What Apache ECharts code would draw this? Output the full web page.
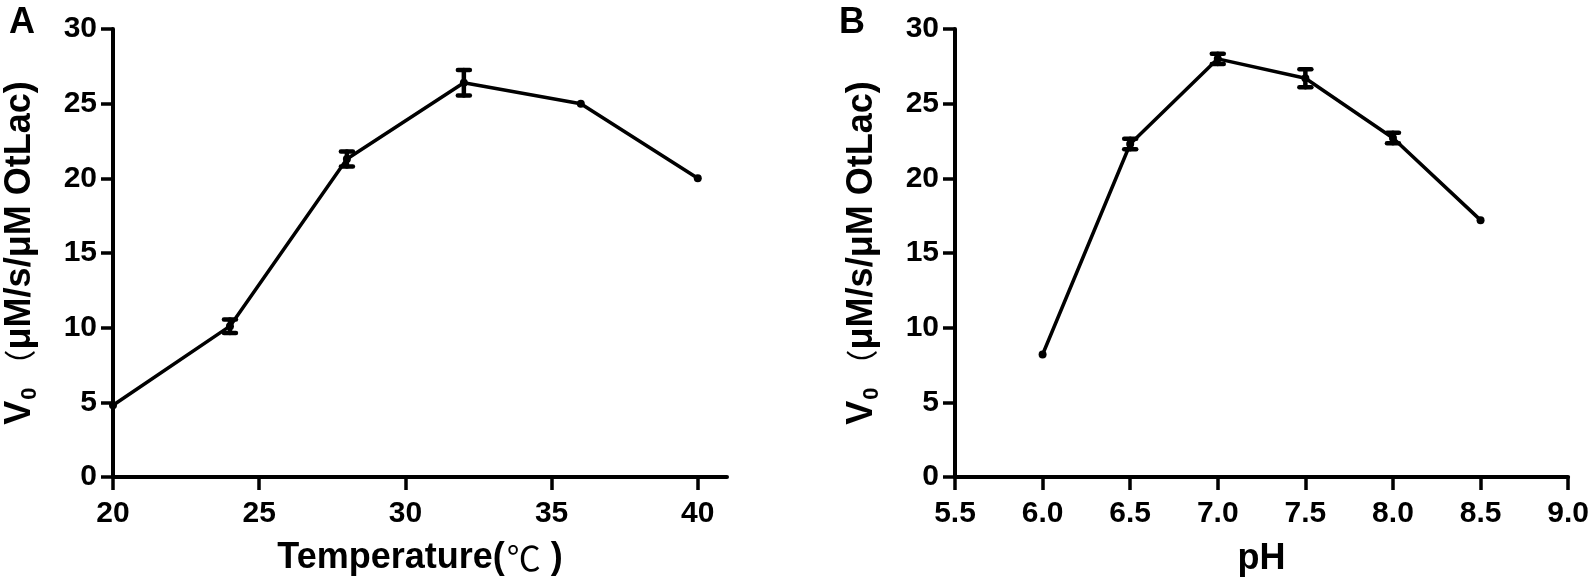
<!DOCTYPE html>
<html>
<head>
<meta charset="utf-8">
<script src="https://cdn.jsdelivr.net/npm/echarts@6/dist/echarts.min.js"></script>
<style>
html,body{margin:0;padding:0;background:#fff;}
#chart{width:1592px;height:586px;}
</style>
</head>
<body>
<div id="chart"></div>
<script>
// Panel A: temperature
var tempX = [20, 24, 28, 32, 36, 40];
var tempV = [4.8, 10.1, 21.3, 26.4, 25.0, 20.0];
var tempErr = [0, 0.45, 0.5, 0.85, 0, 0];
var tempTicks = [20, 25, 30, 35, 40];

// Panel B: pH
var phX = [6.0, 6.5, 7.0, 7.5, 8.0, 8.5];
var phV = [8.2, 22.3, 28.0, 26.7, 22.7, 17.2];
var phErr = [0, 0.35, 0.35, 0.6, 0.35, 0];

var yTicks = [0, 5, 10, 15, 20, 25, 30];

var FONT = '"Liberation Sans", Arial, sans-serif';
var CJK = '"Noto Sans CJK SC", sans-serif';

function pairs(xs, ys) { return xs.map(function (x, i) { return [x, ys[i]]; }); }
function errData(xs, ys, es) {
  var out = [];
  xs.forEach(function (x, i) { if (es[i] > 0) out.push([x, ys[i] - es[i], ys[i] + es[i]]); });
  return out;
}
function renderErr(params, api) {
  var x = api.value(0);
  var lo = api.coord([x, api.value(1)]);
  var hi = api.coord([x, api.value(2)]);
  var hw = 6;
  var st = { stroke: '#000', lineWidth: 4.5, lineCap: 'round' };
  return {
    type: 'group',
    children: [
      { type: 'line', shape: { x1: lo[0], y1: lo[1], x2: hi[0], y2: hi[1] }, style: st },
      { type: 'line', shape: { x1: lo[0] - hw, y1: lo[1], x2: lo[0] + hw, y2: lo[1] }, style: st },
      { type: 'line', shape: { x1: hi[0] - hw, y1: hi[1], x2: hi[0] + hw, y2: hi[1] }, style: st }
    ]
  };
}

var yName = '{b|V}{s|0}{p|（}{b|μM/s/μM OtLac)}';
var yRich = {
  b: { fontFamily: FONT, fontWeight: 'bold', fontSize: 36, color: '#000', lineHeight: 42 },
  s: { fontFamily: FONT, fontWeight: 'bold', fontSize: 22, color: '#000', lineHeight: 42, verticalAlign: 'bottom', padding: [15, 0, 0, 1] },
  p: { fontFamily: CJK, fontWeight: 'normal', fontSize: 32, color: '#000', lineHeight: 42, padding: [0, 0, 0, 6] }
};
var xRich = {
  b: { fontFamily: FONT, fontWeight: 'bold', fontSize: 36, color: '#000', lineHeight: 42 },
  c: { fontFamily: CJK, fontWeight: 'normal', fontSize: 34, color: '#000', lineHeight: 42, padding: [0, 10, 0, 2] }
};

function yAxis(gridIndex) {
  return {
    type: 'value', gridIndex: gridIndex, min: 0, max: 30, interval: 5,
    name: yName, nameLocation: 'middle', nameRotate: 90, nameGap: 72,
    nameTextStyle: { rich: yRich },
    axisLine: { show: true, lineStyle: { color: '#000', width: 4 } },
    axisTick: { show: true, length: 12, lineStyle: { color: '#000', width: 3.5 } },
    axisLabel: { fontFamily: FONT, fontWeight: 'bold', fontSize: 30, color: '#000', margin: 16 },
    splitLine: { show: false }
  };
}

var option = {
  backgroundColor: '#fff',
  animation: false,
  title: [
    { text: 'A', left: 4, top: 0, textStyle: { fontFamily: FONT, fontWeight: 'bold', fontSize: 36, color: '#000' } },
    { text: 'B', left: 834, top: 0, textStyle: { fontFamily: FONT, fontWeight: 'bold', fontSize: 36, color: '#000' } }
  ],
  grid: [
    { left: 113, top: 29, width: 614, height: 448 },
    { left: 955, top: 29, width: 614, height: 448 }
  ],
  xAxis: [
    {
      type: 'value', gridIndex: 0, min: 20, max: 41,
      name: '{b|Temperature(}{c|℃}{b|)}', nameLocation: 'middle', nameGap: 60,
      nameTextStyle: { rich: xRich },
      axisLine: { show: true, lineStyle: { color: '#000', width: 4 } },
      axisTick: { show: true, length: 13, customValues: tempTicks, lineStyle: { color: '#000', width: 3.5 } },
      axisLabel: { fontFamily: FONT, fontWeight: 'bold', fontSize: 30, color: '#000', margin: 22, customValues: tempTicks },
      splitLine: { show: false }
    },
    {
      type: 'value', gridIndex: 1, min: 5.5, max: 9.0, interval: 0.5,
      name: 'pH', nameLocation: 'middle', nameGap: 64,
      nameTextStyle: { fontFamily: FONT, fontWeight: 'bold', fontSize: 36, color: '#000' },
      axisLine: { show: true, lineStyle: { color: '#000', width: 4 } },
      axisTick: { show: true, length: 13, lineStyle: { color: '#000', width: 3.5 } },
      axisLabel: { fontFamily: FONT, fontWeight: 'bold', fontSize: 30, color: '#000', margin: 22,
        formatter: function (v) { return v.toFixed(1); } },
      splitLine: { show: false }
    }
  ],
  yAxis: [yAxis(0), yAxis(1)],
  series: [
    {
      type: 'line', xAxisIndex: 0, yAxisIndex: 0, data: pairs(tempX, tempV),
      symbol: 'circle', symbolSize: 8, itemStyle: { color: '#000' },
      lineStyle: { color: '#000', width: 3.5 }, clip: false, z: 3
    },
    { type: 'custom', xAxisIndex: 0, yAxisIndex: 0, data: errData(tempX, tempV, tempErr), renderItem: renderErr, z: 4 },
    {
      type: 'line', xAxisIndex: 1, yAxisIndex: 1, data: pairs(phX, phV),
      symbol: 'circle', symbolSize: 8, itemStyle: { color: '#000' },
      lineStyle: { color: '#000', width: 3.5 }, clip: false, z: 3
    },
    { type: 'custom', xAxisIndex: 1, yAxisIndex: 1, data: errData(phX, phV, phErr), renderItem: renderErr, z: 4 }
  ]
};

var chart = echarts.init(document.getElementById('chart'), null, { renderer: 'canvas' });
chart.setOption(option);
</script>
</body>
</html>
